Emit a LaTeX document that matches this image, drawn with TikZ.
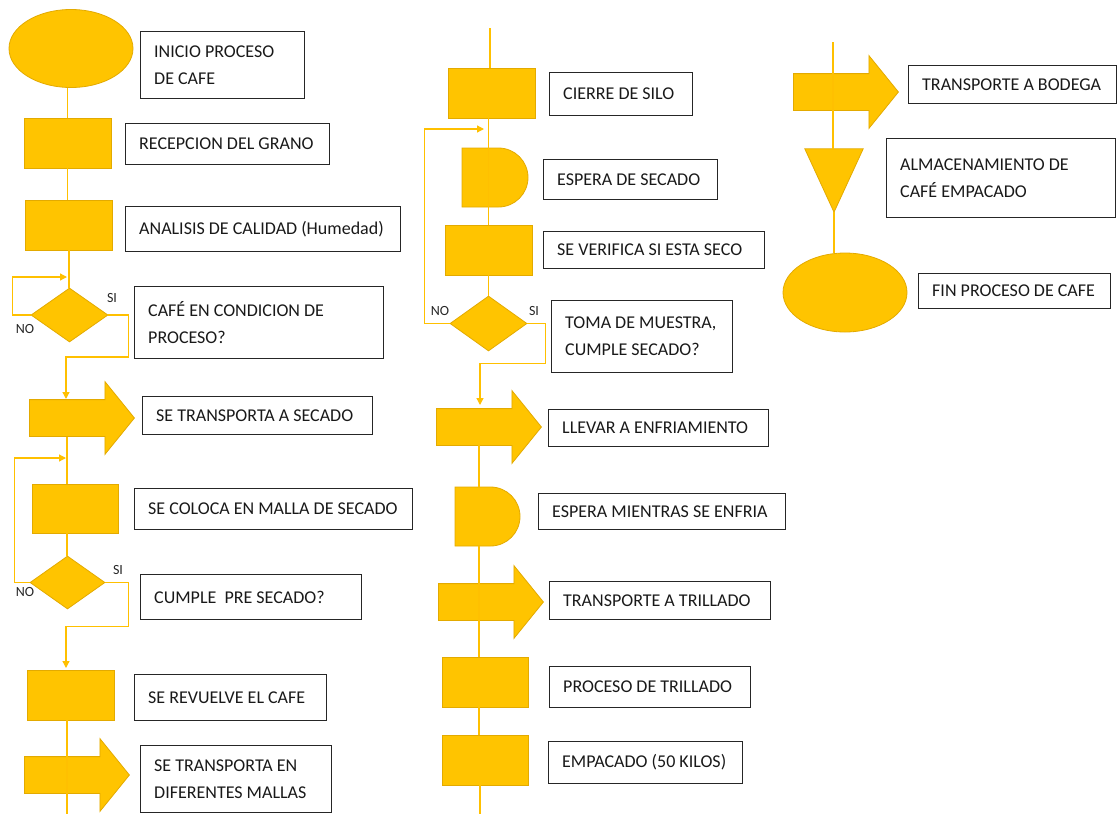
\documentclass[tikz,border=0pt]{standalone}
\usepackage{fontspec}
\setmainfont{Carlito}
\usetikzlibrary{shapes.geometric,shapes.arrows,shapes.misc,arrows.meta}
\definecolor{gold}{HTML}{FFC400}
\definecolor{goldd}{HTML}{E3AA00}
\definecolor{goldl}{HTML}{FFC000}
\newcommand\tbox[6]{%
  \pgfmathsetmacro\tbw{#4-#2}\pgfmathsetmacro\tbh{#5-#3}%
  \node[tb, minimum width=\tbw pt, minimum height=\tbh pt] (#1) at (#2,#3) {};
  \node[tbtext] (#1txt) at ([xshift=14pt]#1.west) {#6};}
\begin{document}
\begin{tikzpicture}[x=1pt,y=-1pt,
  sym/.style={fill=gold, draw=goldd, line width=0.8pt, inner sep=0pt},
  proc/.style={sym, rectangle, minimum width=87pt, minimum height=50pt},
  term/.style={sym, ellipse, minimum width=124pt, minimum height=78pt},
  dec/.style={sym, diamond, minimum width=77pt, minimum height=54pt},
  delay/.style={sym, rounded rectangle, rounded rectangle left arc=none, minimum width=66pt, minimum height=59pt},
  bigarrow/.style={sym, single arrow, anchor=tail, minimum height=105pt, minimum width=72pt,
     single arrow head extend=18pt, inner xsep=0pt, inner ysep=18pt, single arrow tip angle=102},
  flow/.style={draw=goldl, line width=1.3pt},
  arr/.style={flow, -{Triangle[length=7pt,width=7pt]}},
  tb/.style={draw=black!85, line width=1.3pt, anchor=north west, inner sep=0pt},
  tbtext/.style={anchor=west, inner sep=0pt, align=left, font=\fontsize{18}{27}\selectfont, text=black!90},
  lbl/.style={font=\fontsize{14}{16}\selectfont, inner sep=0pt, text=black!85}
]
\useasboundingbox (0,0) rectangle (1118,814);

% ---------- left column ----------
\node[term] (start) at (71,48.5) {};
\node[proc] (r1) at (67.5,143) {};
\node[proc] (r2) at (69,225) {};
\node[dec] (d1) at (69.5,315) {};
\node[bigarrow] (a1) at (29,418) {};
\node[proc, minimum width=86pt, minimum height=49pt] (r3) at (75,508.5) {};
\node[dec, minimum width=75pt, minimum height=53pt] (d2) at (67.5,582.5) {};
\node[proc] (r4) at (70.5,695) {};
\node[bigarrow] (a2) at (24,775) {};

\node[lbl] (si1) at (112,298) {SI};
\node[lbl] (no1) at (25,329) {NO};
\node[lbl] (si2) at (118,570) {SI};
\node[lbl] (no2) at (25,592) {NO};

\coordinate (j1) at (67,277);
\coordinate (j2) at (66,399);
\coordinate (c1) at (67,437);
\coordinate (j3) at (66,458);
\coordinate (j4) at (66,668);
\coordinate (bot1) at (67,814);

\draw[flow] (start.south -| r1.north) -- (r1.north);
\draw[flow] (r1.south) -- (r1.south |- r2.north);
\draw[flow] (r2.south) -- (r2.south |- d1.north);
\draw[arr] (d1.west) -- ++(-18,0) |- (j1);
\draw[arr] (d1.east) -- ++(20,0) -- ++(0,42) -| (j2);
\draw[flow] (c1) -- (c1 |- r3.north);
\draw[arr] (d2.west) -- ++(-15,0) |- (j3);
\draw[flow] (r3.south -| c1) -- (c1 |- d2.north);
\draw[arr] (d2.east) -- ++(23,0) -- ++(0,44) -| (j4);
\draw[flow] (r4.south -| bot1) -- (bot1);

\tbox{tStart}{140}{31}{304}{98}{INICIO PROCESO\\DE CAFE}
\tbox{t1}{125}{123}{329}{164}{RECEPCION DEL GRANO}
\tbox{t2}{125}{206}{400}{251}{ANALISIS DE CALIDAD (Humedad)}
\tbox{t3}{134}{286}{383}{358}{CAFÉ EN CONDICION DE\\PROCESO?}
\tbox{t4}{142}{396}{372}{434}{SE TRANSPORTA A SECADO}
\tbox{t5}{134}{488}{412}{529}{SE COLOCA EN MALLA DE SECADO}
\tbox{t6}{140}{574}{361}{619}{CUMPLE\ \ PRE SECADO?}
\tbox{t7}{134}{674}{326}{720}{SE REVUELVE EL CAFE}
\tbox{t8}{140}{745}{331}{812}{SE TRANSPORTA EN\\DIFERENTES MALLAS}

% ---------- middle column ----------
\node[proc] (r5) at (491.5,93) {};
\node[delay] (del1) at (495,177.5) {};
\node[proc] (r6) at (488.5,250) {};
\node[dec, minimum height=55pt] (d3) at (488.5,323.5) {};
\node[bigarrow] (a3) at (436,427) {};
\node[delay, minimum width=65pt] (del2) at (487.5,516.5) {};
\node[bigarrow] (a4) at (438,602) {};
\node[proc, minimum width=86pt] (r7) at (485,682) {};
\node[proc, minimum width=86pt] (r8) at (485,760) {};

\node[lbl] (no3) at (440,311) {NO};
\node[lbl] (si3) at (534,311) {SI};

\coordinate (top2) at (490,28);
\coordinate (j5) at (484,129);
\coordinate (j6) at (480,405);
\coordinate (c2) at (479,444);
\coordinate (bot2) at (480,814);

\draw[flow] (top2) -- (top2 |- r5.north);
\draw[flow] (r5.south -| r6.north) -- (r6.north);
\draw[flow] (r6.south) -- (d3.north);
\draw[arr] (d3.west) -- ++(-25,0) |- (j5);
\draw[arr] (d3.east) -- ++(18,0) -- ++(0,40) -| (j6);
\draw[flow] (c2) -- (c2 |- del2.north);
\draw[flow] (del2.south -| c2) -- (c2 |- r7.north);
\draw[flow] (r7.south -| c2) -- (c2 |- r8.north);
\draw[flow] (r8.south -| bot2) -- (bot2);

\tbox{t9}{549}{72}{692}{115}{CIERRE DE SILO}
\tbox{t10}{543}{159}{717}{199}{ESPERA DE SECADO}
\tbox{t11}{543}{231}{764}{268}{SE VERIFICA SI ESTA SECO}
\tbox{t12}{551}{300}{732}{372}{TOMA DE MUESTRA,\\CUMPLE SECADO?}
\tbox{t13}{548}{409}{768}{446}{LLEVAR A ENFRIAMIENTO}
\tbox{t14}{538}{493}{785}{529}{ESPERA MIENTRAS SE ENFRIA}
\tbox{t15}{549}{581}{770}{619}{TRANSPORTE A TRILLADO}
\tbox{t16}{549}{666}{750}{707}{PROCESO DE TRILLADO}
\tbox{t17}{548}{741}{742}{783}{EMPACADO (50 KILOS)}

% ---------- right column ----------
\node[bigarrow] (a5) at (793,92) {};
\node[minimum width=58pt, minimum height=63pt, inner sep=0pt] (tri) at (834,180.5) {};
\fill[gold, draw=goldd, line width=0.8pt] (tri.north west) -- (tri.north east) -- (tri.south) -- cycle;
\node[term, minimum height=79pt] (fin) at (845,292.5) {};

\coordinate (top3) at (833,42);
\draw[flow] (top3) -- (top3 |- tri.north);
\draw[flow] (tri.south) -- (tri.south |- fin.north);

\tbox{t18}{908}{65}{1116}{103}{TRANSPORTE A BODEGA}
\tbox{t19}{886}{138}{1115}{217}{ALMACENAMIENTO DE\\CAFÉ EMPACADO}
\tbox{t20}{918}{273}{1110}{308}{FIN PROCESO DE CAFE}
\end{tikzpicture}
\end{document}
